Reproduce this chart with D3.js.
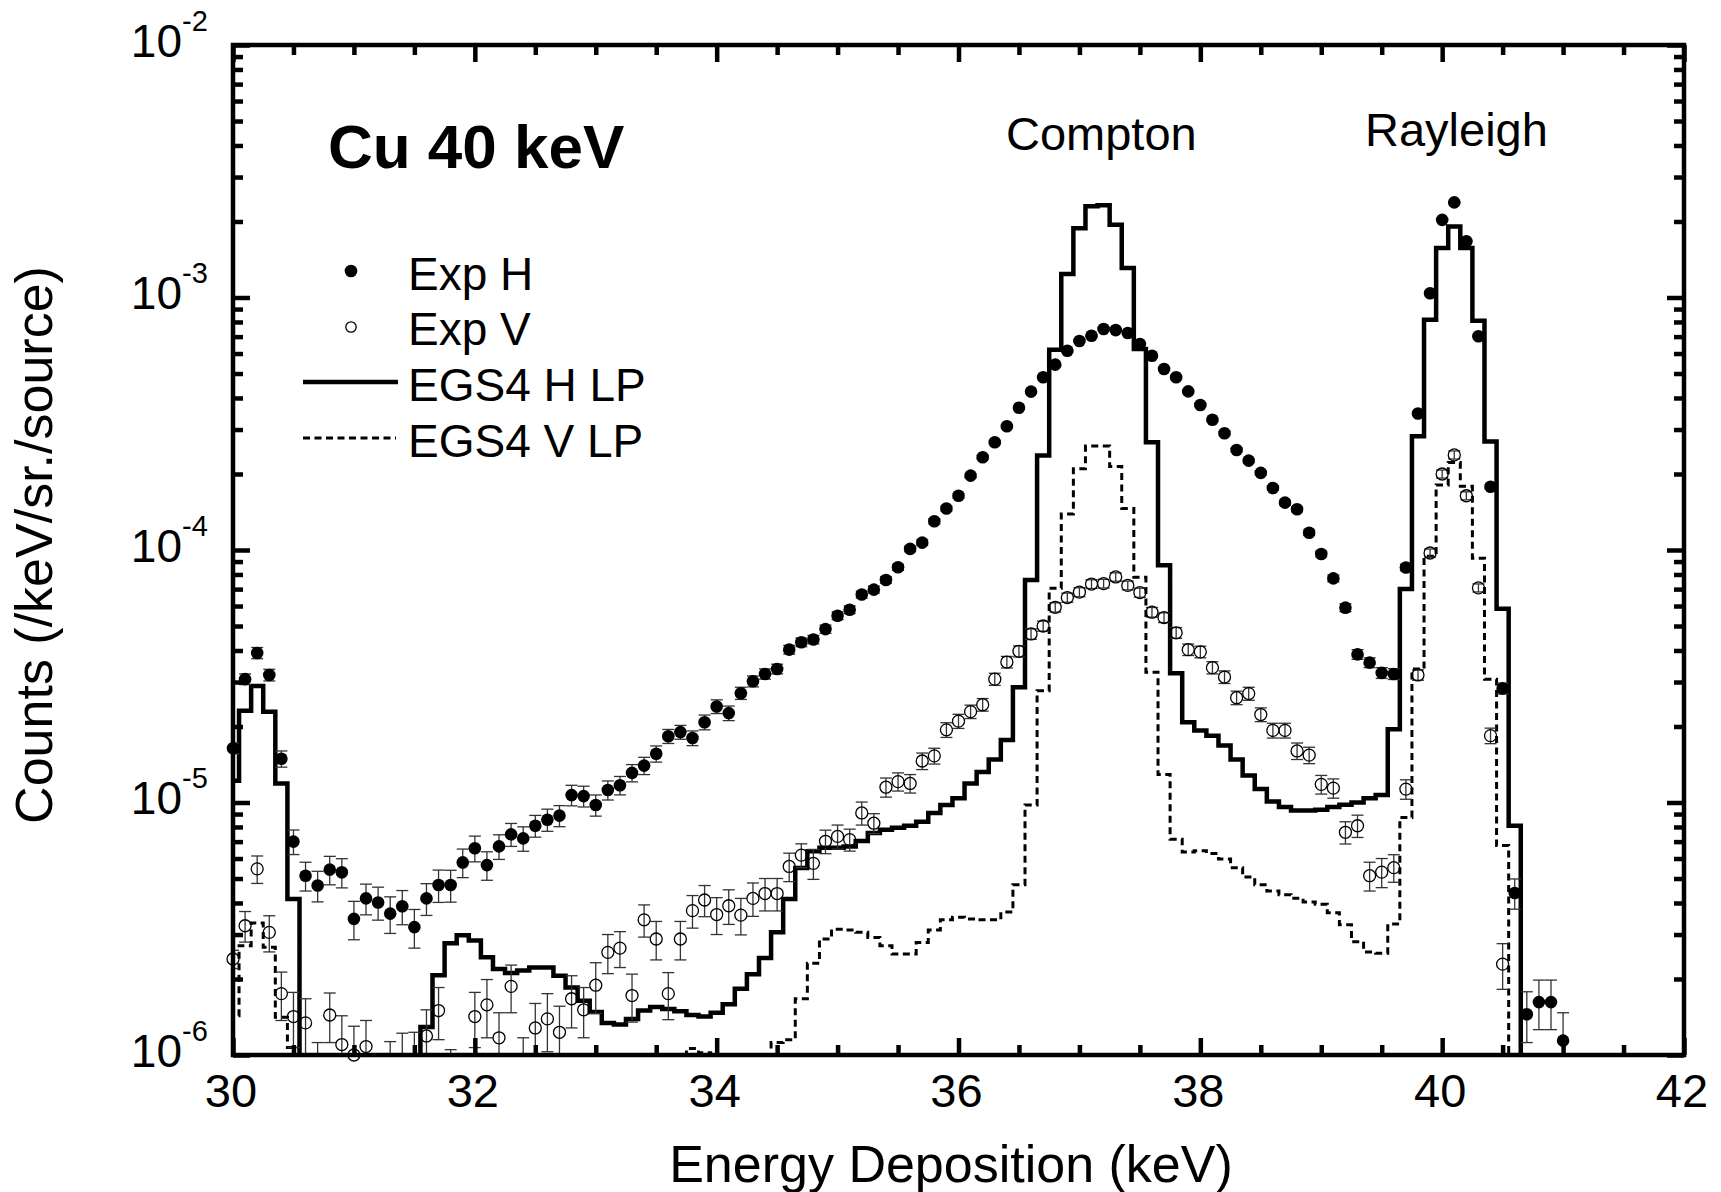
<!DOCTYPE html>
<html>
<head>
<meta charset="utf-8">
<script src="https://cdn.jsdelivr.net/npm/d3@7"></script>
<style>
  body { margin: 0; background: #fff; }
  svg { display: block; }
  text { font-family: "Liberation Sans", Arial, Helvetica, sans-serif; fill: #000; }
</style>
</head>
<body>
<svg id="chart" width="1721" height="1192"></svg>
<script>
// Bin centres (keV), shared by every series
const energy = [
  30.0,30.1,30.2,30.3,30.4,30.5,30.6,30.7,30.8,30.9,
  31.0,31.1,31.2,31.3,31.4,31.5,31.6,31.7,31.8,31.9,
  32.0,32.1,32.2,32.3,32.4,32.5,32.6,32.7,32.8,32.9,
  33.0,33.1,33.2,33.3,33.4,33.5,33.6,33.7,33.8,33.9,
  34.0,34.1,34.2,34.3,34.4,34.5,34.6,34.7,34.8,34.9,
  35.0,35.1,35.2,35.3,35.4,35.5,35.6,35.7,35.8,35.9,
  36.0,36.1,36.2,36.3,36.4,36.5,36.6,36.7,36.8,36.9,
  37.0,37.1,37.2,37.3,37.4,37.5,37.6,37.7,37.8,37.9,
  38.0,38.1,38.2,38.3,38.4,38.5,38.6,38.7,38.8,38.9,
  39.0,39.1,39.2,39.3,39.4,39.5,39.6,39.7,39.8,39.9,
  40.0,40.1,40.2,40.3,40.4,40.5,40.6,40.7,40.8,40.9,
  41.0
];

// Measured spectrum, horizontal polarisation (counts /keV/sr/source)
const expH = [
  1.64e-5,3.08e-5,3.91e-5,3.20e-5,1.49e-5,7.0e-6,5.13e-6,4.69e-6,5.42e-6,5.29e-6,
  3.46e-6,4.17e-6,4.02e-6,3.63e-6,3.88e-6,3.21e-6,4.17e-6,4.71e-6,4.71e-6,5.79e-6,
  6.59e-6,5.65e-6,6.70e-6,7.48e-6,7.21e-6,8.09e-6,8.55e-6,8.87e-6,1.07e-5,1.06e-5,
  9.77e-6,1.12e-5,1.17e-5,1.31e-5,1.40e-5,1.56e-5,1.83e-5,1.90e-5,1.80e-5,2.08e-5,
  2.40e-5,2.26e-5,2.71e-5,3.02e-5,3.23e-5,3.38e-5,4.03e-5,4.31e-5,4.42e-5,4.86e-5,
  5.49e-5,5.80e-5,6.66e-5,6.97e-5,7.61e-5,8.54e-5,1.01e-4,1.07e-4,1.30e-4,1.46e-4,
  1.64e-4,1.97e-4,2.33e-4,2.67e-4,3.09e-4,3.66e-4,4.24e-4,4.83e-4,5.42e-4,6.15e-4,
  6.73e-4,7.06e-4,7.50e-4,7.43e-4,7.23e-4,6.54e-4,5.88e-4,5.21e-4,4.83e-4,4.25e-4,
  3.75e-4,3.28e-4,2.90e-4,2.49e-4,2.26e-4,2.02e-4,1.76e-4,1.54e-4,1.45e-4,1.17e-4,
  9.64e-5,7.72e-5,5.91e-5,3.86e-5,3.58e-5,3.26e-5,3.23e-5,8.53e-5,3.47e-4,1.04e-3,
  2.03e-3,2.38e-3,1.67e-3,7.02e-4,1.78e-4,2.83e-5,4.38e-6,1.45e-6,1.62e-6,1.62e-6,
  1.14e-6
];
const expHErr = [
  0.8e-6,1.5e-6,2.0e-6,1.7e-6,1.1e-6,0.78e-6,0.67e-6,0.65e-6,0.7e-6,0.7e-6,
  0.6e-6,0.58e-6,0.6e-6,0.6e-6,0.6e-6,0.56e-6,0.6e-6,0.69e-6,0.68e-6,0.75e-6,
  0.77e-6,0.73e-6,0.75e-6,0.78e-6,0.8e-6,0.8e-6,0.86e-6,0.85e-6,1.0e-6,1.0e-6,
  0.94e-6,0.97e-6,0.98e-6,1.03e-6,1.1e-6,1.15e-6,1.17e-6,1.2e-6,1.2e-6,1.4e-6,
  1.5e-6,1.5e-6,1.5e-6,1.5e-6,1.5e-6,1.5e-6,1.6e-6,1.7e-6,1.7e-6,1.8e-6,
  1.9e-6,2.0e-6,2.1e-6,2.2e-6,2.3e-6,2.4e-6,2.6e-6,2.7e-6,3.0e-6,3.2e-6,
  3.4e-6,3.7e-6,4.0e-6,4.3e-6,4.6e-6,5.0e-6,5.4e-6,5.8e-6,6.1e-6,6.5e-6,
  6.8e-6,7.0e-6,7.2e-6,7.2e-6,7.1e-6,6.7e-6,6.4e-6,6.0e-6,5.8e-6,5.4e-6,
  5.1e-6,4.8e-6,4.5e-6,4.2e-6,4.0e-6,3.8e-6,3.5e-6,3.3e-6,3.2e-6,2.9e-6,
  2.6e-6,2.4e-6,2.1e-6,1.7e-6,1.6e-6,1.6e-6,1.6e-6,2.5e-6,5.0e-6,8.5e-6,
  1.2e-5,1.3e-5,1.1e-5,7.0e-6,3.6e-6,1.4e-6,0.6e-6,0.33e-6,0.36e-6,0.36e-6,
  0.33e-6
];

// Measured spectrum, vertical polarisation
const expV = [
  2.40e-6,3.25e-6,5.46e-6,3.06e-6,1.75e-6,1.42e-6,1.34e-6,0.80e-6,1.44e-6,1.10e-6,
  1.00e-6,1.08e-6,null,0.85e-6,0.90e-6,0.92e-6,1.19e-6,1.50e-6,0.75e-6,null,
  1.42e-6,1.58e-6,1.17e-6,1.87e-6,0.87e-6,1.28e-6,1.39e-6,1.23e-6,1.67e-6,1.51e-6,
  1.89e-6,2.55e-6,2.65e-6,1.72e-6,3.43e-6,2.88e-6,1.75e-6,2.88e-6,3.73e-6,4.11e-6,
  3.60e-6,3.90e-6,3.58e-6,4.17e-6,4.36e-6,4.36e-6,5.58e-6,6.19e-6,5.74e-6,7.02e-6,
  7.34e-6,7.13e-6,9.09e-6,8.28e-6,1.15e-5,1.21e-5,1.19e-5,1.46e-5,1.53e-5,1.94e-5,
  2.10e-5,2.29e-5,2.44e-5,3.08e-5,3.60e-5,3.97e-5,4.65e-5,5.00e-5,5.93e-5,6.48e-5,
  6.81e-5,7.33e-5,7.36e-5,7.82e-5,7.24e-5,6.78e-5,5.67e-5,5.40e-5,4.70e-5,4.03e-5,
  3.95e-5,3.42e-5,3.14e-5,2.60e-5,2.70e-5,2.23e-5,1.93e-5,1.93e-5,1.60e-5,1.54e-5,
  1.18e-5,1.14e-5,7.62e-6,8.09e-6,5.13e-6,5.30e-6,5.52e-6,1.13e-5,3.20e-5,9.73e-5,
  2.00e-4,2.38e-4,1.64e-4,7.08e-5,1.84e-5,2.29e-6,null,null,null,null,
  null
];
const expVErr = [
  0.2e-6,0.45e-6,0.68e-6,0.5e-6,0.38e-6,0.35e-6,0.33e-6,0.32e-6,0.32e-6,0.33e-6,
  0.3e-6,0.29e-6,null,0.28e-6,0.32e-6,0.31e-6,0.32e-6,0.35e-6,0.30e-6,null,
  0.35e-6,0.41e-6,0.30e-6,0.40e-6,0.30e-6,0.32e-6,0.36e-6,0.33e-6,0.39e-6,0.34e-6,
  0.43e-6,0.45e-6,0.43e-6,0.37e-6,0.50e-6,0.50e-6,0.37e-6,0.50e-6,0.55e-6,0.58e-6,
  0.60e-6,0.61e-6,0.59e-6,0.63e-6,0.64e-6,0.64e-6,0.72e-6,0.67e-6,0.78e-6,0.75e-6,
  0.80e-6,0.71e-6,0.95e-6,0.75e-6,1.0e-6,1.0e-6,1.0e-6,1.1e-6,1.1e-6,1.3e-6,
  1.35e-6,1.4e-6,1.4e-6,1.7e-6,1.9e-6,2.0e-6,2.2e-6,2.3e-6,2.5e-6,2.7e-6,
  2.8e-6,2.9e-6,2.9e-6,3.0e-6,2.9e-6,2.8e-6,2.5e-6,2.4e-6,2.3e-6,2.1e-6,
  2.1e-6,1.9e-6,1.8e-6,1.6e-6,1.6e-6,1.4e-6,1.3e-6,1.3e-6,1.2e-6,1.15e-6,
  1.0e-6,1.0e-6,0.77e-6,0.82e-6,0.67e-6,0.70e-6,0.69e-6,1.0e-6,1.5e-6,3.6e-6,
  7.4e-6,8.8e-6,6.0e-6,2.6e-6,1.3e-6,0.47e-6,null,null,null,null,
  null
];

// EGS4 simulation with linear polarisation (null = below the plotted range)
const egsH = [
  1.22e-5,2.31e-5,2.89e-5,2.29e-5,1.19e-5,4.15e-6,null,null,null,null,
  null,null,null,null,null,null,1.29e-6,2.07e-6,2.77e-6,2.98e-6,
  2.84e-6,2.44e-6,2.19e-6,2.11e-6,2.16e-6,2.22e-6,2.22e-6,2.06e-6,1.85e-6,1.64e-6,
  1.48e-6,1.34e-6,1.32e-6,1.39e-6,1.50e-6,1.55e-6,1.52e-6,1.49e-6,1.44e-6,1.42e-6,
  1.47e-6,1.59e-6,1.83e-6,2.09e-6,2.42e-6,3.06e-6,4.15e-6,5.50e-6,6.41e-6,6.62e-6,
  6.62e-6,6.70e-6,7.04e-6,7.57e-6,7.80e-6,7.94e-6,8.09e-6,8.39e-6,9.08e-6,9.77e-6,
  1.04e-5,1.19e-5,1.32e-5,1.48e-5,1.77e-5,2.86e-5,7.6e-5,2.37e-4,6.21e-4,1.24e-3,
  1.88e-3,2.30e-3,2.32e-3,1.94e-3,1.31e-3,6.25e-4,2.67e-4,8.7e-5,3.25e-5,2.08e-5,
  1.93e-5,1.84e-5,1.68e-5,1.48e-5,1.28e-5,1.13e-5,1.01e-5,9.6e-6,9.3e-6,9.3e-6,
  9.35e-6,9.6e-6,9.8e-6,1.0e-5,1.04e-5,1.07e-5,1.95e-5,7.01e-5,2.82e-4,8.17e-4,
  1.57e-3,1.91e-3,1.57e-3,8.09e-4,2.69e-4,5.85e-5,8.09e-6,null,null,null,
  null
];
const egsV = [
  1.43e-6,2.71e-6,3.33e-6,2.67e-6,1.41e-6,1.07e-6,null,null,null,null,
  null,null,null,null,null,null,null,null,null,null,
  null,null,null,null,null,null,null,null,null,null,
  null,null,null,null,null,null,null,null,1.06e-6,1.02e-6,
  null,null,null,null,null,1.12e-6,1.15e-6,1.67e-6,2.31e-6,2.88e-6,
  3.15e-6,3.13e-6,3.06e-6,2.92e-6,2.71e-6,2.51e-6,2.51e-6,2.79e-6,3.13e-6,3.43e-6,
  3.51e-6,3.46e-6,3.43e-6,3.43e-6,3.68e-6,4.72e-6,9.77e-6,2.77e-5,7.05e-5,1.39e-4,
  2.10e-4,2.58e-4,2.58e-4,2.14e-4,1.46e-4,7.80e-5,3.28e-5,1.29e-5,7.16e-6,6.37e-6,
  6.44e-6,6.28e-6,5.97e-6,5.52e-6,5.07e-6,4.72e-6,4.46e-6,4.31e-6,4.18e-6,4.04e-6,
  3.95e-6,3.66e-6,3.28e-6,2.81e-6,2.56e-6,2.53e-6,3.30e-6,8.73e-6,3.38e-5,9.44e-5,
  1.81e-4,2.22e-4,1.79e-4,9.27e-5,3.08e-5,6.75e-6,null,null,null,null,
  null
];

const xTickLabels = [30, 32, 34, 36, 38, 40, 42];
const yTickExponents = [-2, -3, -4, -5, -6];
const legendLabels = ["Exp H", "Exp V", "EGS4 H LP", "EGS4 V LP"];

// ---- layout ----
const plot = { left: 233, right: 1684, top: 45, bottom: 1055 };
const binWidth = 0.1;

const svg = d3.select("#chart");
const x = d3.scaleLinear().domain([30, 42]).range([plot.left, plot.right]);
const y = d3.scaleLog().domain([1e-6, 1e-2]).range([plot.bottom, plot.top]);

svg.append("defs").append("clipPath").attr("id", "plotClip")
  .append("rect")
  .attr("x", plot.left).attr("y", plot.top)
  .attr("width", plot.right - plot.left).attr("height", plot.bottom - plot.top);

// ---- step histograms ----
const offScale = 1e-9;
function stepPoints(values) {
  const pts = [];
  values.forEach((v, i) => {
    const val = v == null ? offScale : v;
    pts.push([energy[i] - binWidth / 2, val], [energy[i] + binWidth / 2, val]);
  });
  return pts;
}
const stepLine = d3.line().x(d => x(d[0])).y(d => y(d[1]));

const histG = svg.append("g").attr("clip-path", "url(#plotClip)");
histG.append("path")
  .attr("d", stepLine(stepPoints(egsV)))
  .attr("fill", "none").attr("stroke", "#000")
  .attr("stroke-width", 3).attr("stroke-dasharray", "7,4.5")
  .attr("stroke-linejoin", "miter");
histG.append("path")
  .attr("d", stepLine(stepPoints(egsH)))
  .attr("fill", "none").attr("stroke", "#000")
  .attr("stroke-width", 4.5).attr("stroke-linejoin", "miter");

// ---- measured points with error bars ----
function pointsOf(values, errs) {
  return values.map((v, i) => ({ e: energy[i], v: v, err: errs[i] }))
               .filter(d => d.v != null);
}
const hPts = pointsOf(expH, expHErr);
const vPts = pointsOf(expV, expVErr);

const capHalf = 6;
function drawErrors(pts) {
  const g = svg.append("g").attr("clip-path", "url(#plotClip)")
    .attr("stroke", "#333").attr("stroke-width", 1.3).attr("fill", "none");
  pts.forEach(d => {
    const cx = x(d.e);
    const yHi = y(d.v + d.err);
    const yLo = y(Math.max(d.v - d.err, offScale));
    g.append("line").attr("x1", cx).attr("x2", cx).attr("y1", yHi).attr("y2", yLo);
    g.append("line").attr("x1", cx - capHalf).attr("x2", cx + capHalf).attr("y1", yHi).attr("y2", yHi);
    g.append("line").attr("x1", cx - capHalf).attr("x2", cx + capHalf).attr("y1", yLo).attr("y2", yLo);
  });
}
drawErrors(vPts);
drawErrors(hPts);

const inRange = d => d.v >= 0.97e-6;
svg.append("g").selectAll("circle").data(vPts.filter(inRange)).join("circle")
  .attr("cx", d => x(d.e)).attr("cy", d => y(d.v)).attr("r", 6)
  .attr("fill", "none").attr("stroke", "#000").attr("stroke-width", 1.3);
svg.append("g").selectAll("circle").data(hPts.filter(inRange)).join("circle")
  .attr("cx", d => x(d.e)).attr("cy", d => y(d.v)).attr("r", 6.3)
  .attr("fill", "#000");

// ---- frame and ticks ----
const majorX = xTickLabels;
const minorX = x.ticks(24).filter(t => !majorX.includes(t));
const majorY = yTickExponents.map(e => Math.pow(10, e));
const minorY = y.ticks().filter(t => {
  const m = t / Math.pow(10, Math.floor(Math.log10(t) + 1e-9));
  return Math.abs(m - 1) > 1e-6;
});

const majorLen = 17, minorLen = 10;
function addAxis(axisFn, transform, values, len) {
  const g = svg.append("g").attr("transform", transform)
    .call(axisFn.tickValues(values).tickSizeInner(-len).tickSizeOuter(0).tickFormat(""));
  g.select(".domain").remove();
  g.selectAll(".tick line").attr("stroke", "#000").attr("stroke-width", 4.5);
}
addAxis(d3.axisBottom(x), `translate(0,${plot.bottom})`, majorX, majorLen);
addAxis(d3.axisBottom(x), `translate(0,${plot.bottom})`, minorX, minorLen);
addAxis(d3.axisTop(x), `translate(0,${plot.top})`, majorX, majorLen);
addAxis(d3.axisTop(x), `translate(0,${plot.top})`, minorX, minorLen);
addAxis(d3.axisLeft(y), `translate(${plot.left},0)`, majorY, majorLen);
addAxis(d3.axisLeft(y), `translate(${plot.left},0)`, minorY, minorLen);
addAxis(d3.axisRight(y), `translate(${plot.right},0)`, majorY, majorLen);
addAxis(d3.axisRight(y), `translate(${plot.right},0)`, minorY, minorLen);

svg.append("rect")
  .attr("x", plot.left).attr("y", plot.top)
  .attr("width", plot.right - plot.left).attr("height", plot.bottom - plot.top)
  .attr("fill", "none").attr("stroke", "#000").attr("stroke-width", 4.5);

// ---- tick labels ----
svg.append("g").selectAll("text").data(xTickLabels).join("text")
  .attr("x", d => x(d) - 2).attr("y", 1107)
  .attr("text-anchor", "middle").attr("font-size", 47)
  .text(d => d);

const yLab = svg.append("g");
yTickExponents.forEach(e => {
  const ty = y(Math.pow(10, e));
  yLab.append("text").attr("x", 182).attr("y", ty + 11.5)
    .attr("text-anchor", "end").attr("font-size", 46).text("10");
  yLab.append("text").attr("x", 182).attr("y", ty - 14.5)
    .attr("text-anchor", "start").attr("font-size", 29).text(String(e));
});

// ---- axis titles ----
svg.append("text").attr("x", 951).attr("y", 1182)
  .attr("text-anchor", "middle").attr("font-size", 52)
  .text("Energy Deposition (keV)");
svg.append("text")
  .attr("transform", "translate(52,545) rotate(-90)")
  .attr("text-anchor", "middle").attr("font-size", 52)
  .text("Counts (/keV/sr./source)");

// ---- annotations ----
svg.append("text").attr("x", 328).attr("y", 168)
  .attr("font-size", 62).attr("font-weight", "bold").text("Cu 40 keV");
svg.append("text").attr("x", 1006).attr("y", 150)
  .attr("font-size", 47).text("Compton");
svg.append("text").attr("x", 1365).attr("y", 146)
  .attr("font-size", 47).text("Rayleigh");

// ---- legend ----
const legend = svg.append("g");
const rowBase = [290, 345, 401, 457];
legend.append("circle").attr("cx", 351).attr("cy", 271).attr("r", 6.3).attr("fill", "#000");
legend.append("circle").attr("cx", 351).attr("cy", 327).attr("r", 5.2)
  .attr("fill", "none").attr("stroke", "#000").attr("stroke-width", 1.3);
legend.append("line").attr("x1", 303).attr("x2", 398).attr("y1", 382).attr("y2", 382)
  .attr("stroke", "#000").attr("stroke-width", 4.5);
legend.append("line").attr("x1", 303).attr("x2", 396).attr("y1", 438).attr("y2", 438)
  .attr("stroke", "#000").attr("stroke-width", 3).attr("stroke-dasharray", "7,4.5");
legend.selectAll("text").data(legendLabels).join("text")
  .attr("x", 408).attr("y", (d, i) => rowBase[i])
  .attr("font-size", 46).text(d => d);
</script>
</body>
</html>
